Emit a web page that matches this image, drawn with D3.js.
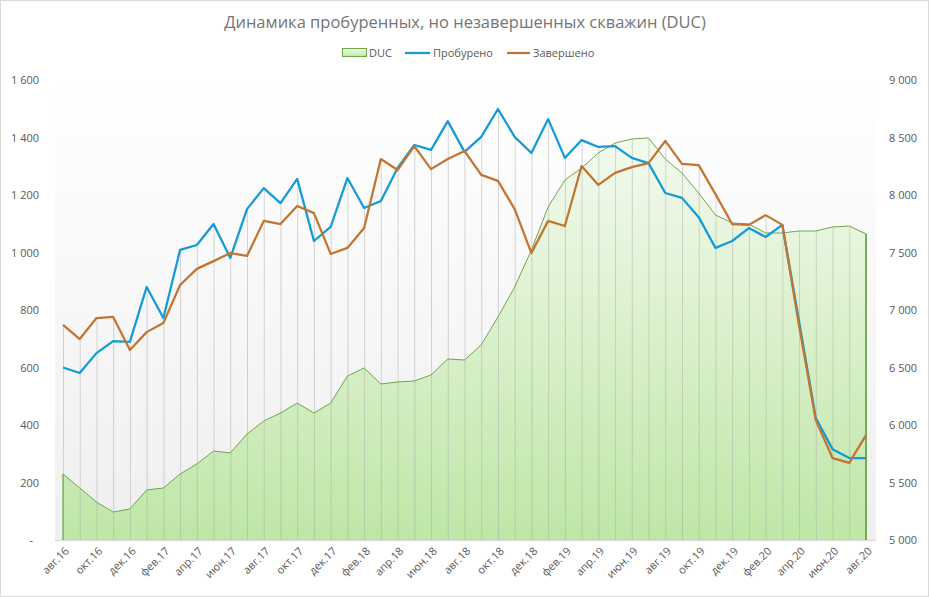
<!DOCTYPE html>
<html><head><meta charset="utf-8">
<script src="https://cdn.jsdelivr.net/npm/d3@7"></script>
<style>body{margin:0;background:#fff}svg{display:block}text{font-family:"Open Sans","Noto Sans",sans-serif}</style>
</head><body><svg id="c" width="929" height="597"></svg>
<script>
const months = ["авг.16","сен.16","окт.16","ноя.16","дек.16","янв.17","фев.17","мар.17","апр.17","май.17","июн.17","июл.17",
"авг.17","сен.17","окт.17","ноя.17","дек.17","янв.18","фев.18","мар.18","апр.18","май.18","июн.18","июл.18",
"авг.18","сен.18","окт.18","ноя.18","дек.18","янв.19","фев.19","мар.19","апр.19","май.19","июн.19","июл.19",
"авг.19","сен.19","окт.19","ноя.19","дек.19","янв.20","фев.20","мар.20","апр.20","май.20","июн.20","июл.20","авг.20"];
const drilled = [600,581,650,692,689,880,772,1009,1026,1099,981,1151,1224,1172,1256,1040,1089,1259,1155,1179,1294,1374,1357,1457,1350,1402,1499,1402,1346,1464,1329,1391,1367,1370,1329,1311,1207,1190,1123,1016,1040,1085,1054,1096,760,424,316,285,285];
const completed = [748,699,772,776,661,723,755,887,943,970,998,988,1110,1099,1162,1137,995,1016,1085,1325,1287,1370,1290,1325,1353,1270,1249,1151,998,1110,1092,1301,1235,1277,1297,1311,1388,1308,1304,1203,1099,1096,1130,1096,745,417,285,268,365];
const duc = [5574,5452,5330,5243,5270,5435,5452,5574,5661,5774,5757,5922,6035,6104,6191,6104,6191,6426,6496,6357,6374,6383,6435,6574,6565,6696,6939,7200,7522,7896,8130,8235,8365,8452,8487,8496,8313,8191,8017,7826,7757,7748,7670,7670,7687,7687,7722,7730,7661];
const leftTicks = [0,200,400,600,800,1000,1200,1400,1600];
const rightTicks = [5000,5500,6000,6500,7000,7500,8000,8500,9000];
const title = "Динамика пробуренных, но незавершенных скважин (DUC)";
const seriesNames = ["DUC","Пробурено","Завершено"];

(function(){
const svg = d3.select("#c");
const W=929,H=597;
const px0=55, px1=876, pTop=80, pBot=540;
const x = d3.scalePoint().domain(months).range([63,866]);
const yL = d3.scaleLinear().domain([0,1600]).range([pBot,pTop]);
const yR = d3.scaleLinear().domain([5000,9000]).range([pBot,pTop]);
const fmt = v => v===0 ? "-" : d3.format(",")(v).replace(/,/g," ");

const defs = svg.append("defs");
const bg = defs.append("linearGradient").attr("id","bg").attr("x1",0).attr("y1",0).attr("x2",0).attr("y2",1);
bg.append("stop").attr("offset","0").attr("stop-color","#ffffff");
bg.append("stop").attr("offset","1").attr("stop-color","#efefef");
const ag = defs.append("linearGradient").attr("id","ag").attr("x1",0).attr("y1",0).attr("x2",0).attr("y2",1);
ag.append("stop").attr("offset","0").attr("stop-color","#f3faef");
ag.append("stop").attr("offset","1").attr("stop-color","#bfe6a6");

svg.append("rect").attr("x",0.5).attr("y",0.5).attr("width",W-1).attr("height",H-1).attr("fill","#fff").attr("stroke","#d9d9d9");
svg.append("rect").attr("x",px0).attr("y",pTop).attr("width",px1-px0).attr("height",pBot-pTop).attr("fill","url(#bg)");

svg.append("text").attr("x",465).attr("y",28).attr("text-anchor","middle").attr("font-size",16.5).attr("fill","#757575").text(title);

const data = months.map((m,i)=>({m,d:drilled[i],c:completed[i],u:duc[i]}));
const area = d3.area().x(d=>x(d.m)).y0(pBot).y1(d=>yR(d.u));
svg.append("path").datum(data).attr("d",area).attr("fill","url(#ag)");

svg.append("g").selectAll("line").data(data).join("line")
  .attr("x1",d=>x(d.m)+0.5).attr("x2",d=>x(d.m)+0.5)
  .attr("y1",d=>Math.min(yL(d.d),yL(d.c),yR(d.u))).attr("y2",pBot)
  .attr("stroke","#a6a6a6").attr("stroke-opacity",0.45).attr("stroke-width",1);

const outline = d3.line().x(d=>x(d.m)).y(d=>yR(d.u));
svg.append("path").datum(data).attr("d",outline).attr("fill","none").attr("stroke","#6da848").attr("stroke-width",1);
svg.append("line").attr("x1",x(months[0])).attr("x2",x(months[0])).attr("y1",yR(duc[0])).attr("y2",pBot).attr("stroke","#6da848").attr("stroke-width",1.2);
svg.append("line").attr("x1",x(months[months.length-1])).attr("x2",x(months[months.length-1])).attr("y1",yR(duc[duc.length-1])).attr("y2",pBot).attr("stroke","#5a9a2e").attr("stroke-width",1.5);

svg.append("line").attr("x1",px0).attr("x2",px1).attr("y1",pBot+0.5).attr("y2",pBot+0.5).attr("stroke","#d9d9d9");

const lD = d3.line().x(d=>x(d.m)).y(d=>yL(d.d));
const lC = d3.line().x(d=>x(d.m)).y(d=>yL(d.c));
svg.append("path").datum(data).attr("d",lD).attr("fill","none").attr("stroke","#129bd6").attr("stroke-width",2.25).attr("stroke-linejoin","round");
svg.append("path").datum(data).attr("d",lC).attr("fill","none").attr("stroke","#c27530").attr("stroke-width",2.25).attr("stroke-linejoin","round");

const gl = svg.append("g").attr("transform","translate(39,0)")
  .call(d3.axisLeft(yL).tickValues(leftTicks).tickFormat(fmt).tickSize(0).tickPadding(0));
gl.select(".domain").remove();
gl.selectAll("text").attr("font-size",11).attr("fill","#595959").attr("font-family","'Open Sans',sans-serif");
gl.selectAll("text").filter(d=>d===0).attr("x",-6);
const gr = svg.append("g").attr("transform","translate(889,0)")
  .call(d3.axisRight(yR).tickValues(rightTicks).tickFormat(fmt).tickSize(0).tickPadding(0));
gr.select(".domain").remove();
gr.selectAll("text").attr("font-size",11).attr("fill","#595959").attr("font-family","'Open Sans',sans-serif");

const xl = svg.append("g");
months.forEach((m,i)=>{
  if(i%2!==0) return;
  xl.append("text").attr("transform",`translate(${x(m)+4},${pBot+9}) rotate(-45)`)
   .attr("text-anchor","end").attr("dy","0.35em").attr("font-size",11).attr("fill","#595959").text(m);
});

const lg = svg.append("g").attr("font-size",11).attr("fill","#595959");
lg.append("rect").attr("x",342.5).attr("y",48.5).attr("width",24).attr("height",8).attr("fill","url(#ag)").attr("stroke","#6da848");
lg.append("text").attr("x",369).attr("y",57).attr("fill","#595959").text(seriesNames[0]);
lg.append("line").attr("x1",405).attr("x2",430).attr("y1",53).attr("y2",53).attr("stroke","#129bd6").attr("stroke-width",2.25);
lg.append("text").attr("x",433).attr("y",57).attr("fill","#595959").text(seriesNames[1]);
lg.append("line").attr("x1",507).attr("x2",530).attr("y1",53).attr("y2",53).attr("stroke","#c27530").attr("stroke-width",2.25);
lg.append("text").attr("x",533).attr("y",57).attr("fill","#595959").text(seriesNames[2]);
})();
</script></body></html>
